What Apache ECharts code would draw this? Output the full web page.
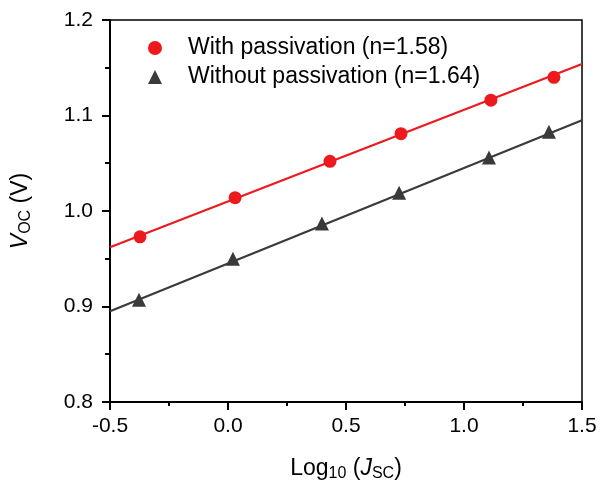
<!DOCTYPE html>
<html lang="en">
<head>
    <meta charset="UTF-8">
    <title>Voc vs log Jsc</title>
    <script src="https://cdn.jsdelivr.net/npm/echarts@6/dist/echarts.min.js"></script>
    <style>
        html, body { margin: 0; padding: 0; background: #fff; }
    </style>
</head>
<body>
<div id="m1" style="width: 601px;height: 487px"></div>
<script>
    // measured points
    var withX = [-0.373, 0.030, 0.432, 0.733, 1.114, 1.381];
    var withY = [0.973, 1.014, 1.052, 1.081, 1.116, 1.140];
    var withoutX = [-0.377, 0.021, 0.398, 0.725, 1.106, 1.360];
    var withoutY = [0.907, 0.950, 0.987, 1.019, 1.056, 1.083];
    // linear fits (end points at the axis limits)
    var fitX = [-0.5, 1.5];
    var withFitY = [0.962, 1.154];
    var withoutFitY = [0.895, 1.095];
    var xTicks = [-0.5, 0.0, 0.5, 1.0, 1.5];
    var yTicks = [0.8, 0.9, 1.0, 1.1, 1.2];
    var names = ['With passivation (n=1.58)', 'Without passivation (n=1.64)'];

    function pairs(xs, ys) {
        var out = [];
        for (var i = 0; i < xs.length; i++) out.push([xs[i], ys[i]]);
        return out;
    }

    var font = 'Liberation Sans, Arial, sans-serif';
    var red = '#ec1a1e';
    var dark = '#3a3a3a';

    var my1 = echarts.init(document.getElementById('m1'));
    var option1 = {
        animation: false,
        backgroundColor: '#fff',
        textStyle: { fontFamily: font },
        grid: {
            left: 110, right: 19, top: 20, bottom: 85,
            show: true, borderColor: '#000', borderWidth: 1.5
        },
        legend: {
            data: names,
            orient: 'vertical',
            left: 143,
            top: 31,
            itemWidth: 14,
            itemHeight: 14,
            itemGap: 5,
            textStyle: { fontSize: 23, lineHeight: 24, color: '#000', fontFamily: font, padding: [0, 0, 0, 21] }
        },
        xAxis: {
            type: 'value',
            min: xTicks[0],
            max: xTicks[xTicks.length - 1],
            interval: 0.5,
            name: 'Log{s|10} ({i|J}{s|SC})',
            nameLocation: 'middle',
            nameGap: 53,
            nameTextStyle: {
                fontSize: 23, color: '#000', fontFamily: font,
                rich: {
                    i: { fontSize: 23, fontStyle: 'italic', color: '#000', fontFamily: font },
                    s: { fontSize: 16, color: '#000', fontFamily: font, padding: [11, 0, 0, 0] }
                }
            },
            axisLine: { onZero: false, lineStyle: { color: '#000', width: 2 } },
            axisTick: { inside: false, length: 8, lineStyle: { color: '#000', width: 2 } },
            minorTick: { show: true, splitNumber: 2, length: 4, lineStyle: { color: '#000', width: 2 } },
            axisLabel: {
                fontSize: 21, color: '#000', margin: 14,
                formatter: function (v) { return v.toFixed(1); }
            },
            splitLine: { show: false }
        },
        yAxis: {
            type: 'value',
            min: yTicks[0],
            max: yTicks[yTicks.length - 1],
            interval: 0.1,
            name: '{i|V}{s|OC} (V)',
            nameLocation: 'middle',
            nameGap: 76,
            nameTextStyle: {
                fontSize: 23, color: '#000', fontFamily: font,
                rich: {
                    i: { fontSize: 23, fontStyle: 'italic', color: '#000', fontFamily: font },
                    s: { fontSize: 16, color: '#000', fontFamily: font, padding: [11, 0, 0, 0] }
                }
            },
            axisLine: { show: true, onZero: false, lineStyle: { color: '#000', width: 2 } },
            axisTick: { show: true, inside: false, length: 8, lineStyle: { color: '#000', width: 2 } },
            minorTick: { show: true, splitNumber: 2, length: 5, lineStyle: { color: '#000', width: 2 } },
            axisLabel: {
                fontSize: 21, color: '#000', margin: 17,
                formatter: function (v) { return v.toFixed(1); }
            },
            splitLine: { show: false }
        },
        series: [
            {
                name: 'fit1',
                type: 'line',
                data: pairs(fitX, withFitY),
                symbol: 'none',
                lineStyle: { color: red, width: 2.2 },
                z: 2
            },
            {
                name: 'fit2',
                type: 'line',
                data: pairs(fitX, withoutFitY),
                symbol: 'none',
                lineStyle: { color: dark, width: 2.2 },
                z: 2
            },
            {
                name: names[0],
                type: 'scatter',
                data: pairs(withX, withY),
                symbol: 'circle',
                symbolSize: 13,
                itemStyle: { color: red, opacity: 1 },
                z: 3
            },
            {
                name: names[1],
                type: 'scatter',
                data: pairs(withoutX, withoutY),
                symbol: 'triangle',
                symbolSize: 14,
                itemStyle: { color: dark, opacity: 1 },
                z: 3
            }
        ]
    };
    my1.setOption(option1);
</script>
</body>
</html>
